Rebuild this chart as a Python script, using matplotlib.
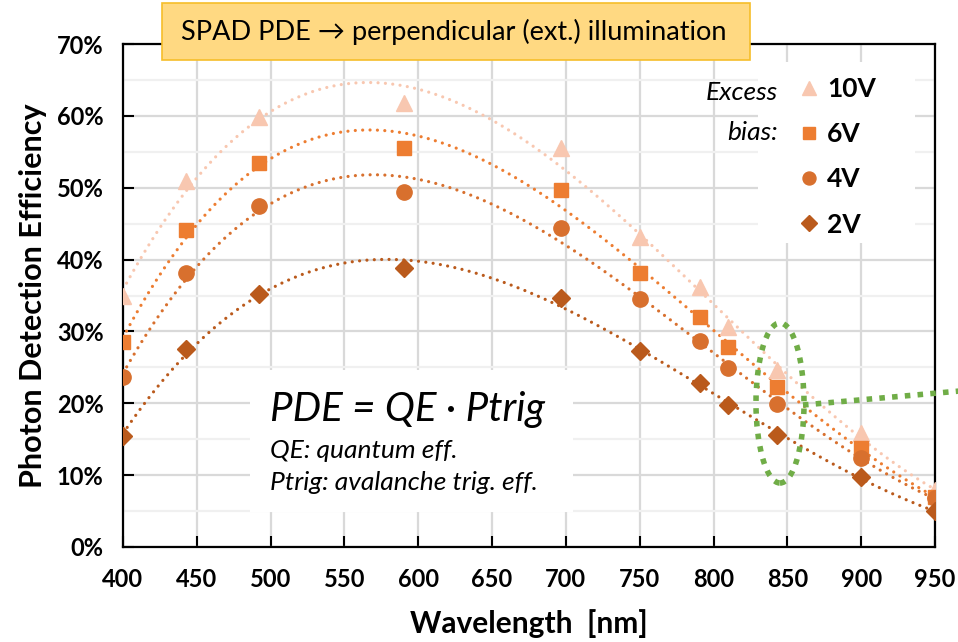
import matplotlib
matplotlib.use("Agg")
import matplotlib.pyplot as plt
import numpy as np
from matplotlib.patches import Rectangle, Ellipse
from matplotlib.ticker import MultipleLocator, FuncFormatter

plt.rcParams["font.family"] = ["Lato", "DejaVu Sans"]

# wavelengths [nm] and PDE [%] per excess bias
wavelength = [400, 443, 492, 590, 697, 750, 791, 810, 843, 900, 950]
pde_10v = [35.0, 51.0, 59.8, 61.8, 55.5, 43.1, 36.2, 30.6, 24.6, 15.9, 7.9]
pde_6v = [28.5, 44.1, 53.4, 55.5, 49.7, 38.1, 32.0, 27.8, 22.3, 13.8, 7.0]
pde_4v = [23.6, 38.1, 47.4, 49.4, 44.4, 34.5, 28.7, 24.9, 19.9, 12.4, 6.8]
pde_2v = [15.4, 27.5, 35.2, 38.8, 34.6, 27.3, 22.8, 19.7, 15.6, 9.7, 5.0]

labels = ["10V", "6V", "4V", "2V"]
colors = ["#F8C7B0", "#ED7D31", "#D8702E", "#BA5A1C"]
markers = ["^", "s", "o", "D"]
msizes = [12, 10, 11, 9]

W, H = 958, 642


def fx(x):
    return x / W


def fy(y):
    return 1 - y / H


fig = plt.figure(figsize=(W / 100, H / 100), dpi=100)
ax = fig.add_axes([fx(123), fy(547), fx(935) - fx(123), fy(44) - fy(547)])
ax.set_xlim(400, 950)
ax.set_ylim(0, 70)

ax.xaxis.set_major_locator(MultipleLocator(50))
ax.yaxis.set_major_locator(MultipleLocator(10))
ax.yaxis.set_minor_locator(MultipleLocator(5))
ax.yaxis.set_major_formatter(FuncFormatter(lambda v, _: f"{v:.0f}%"))
ax.grid(True, which="major", color="#D9D9D9", lw=1.6, zorder=0)
ax.grid(True, which="minor", axis="y", color="#F0F0F0", lw=1.6, zorder=0)
ax.set_axisbelow(True)
ax.tick_params(which="major", direction="in", length=8, width=1.5, labelsize=17)
ax.tick_params(which="minor", length=0)
ax.tick_params(axis="y", pad=14)
ax.tick_params(axis="x", pad=15)
for lab in ax.get_xticklabels() + ax.get_yticklabels():
    lab.set_fontweight("bold")
for s in ax.spines.values():
    s.set_linewidth(1.6)

ax.set_xlabel("Wavelength  [nm]", fontsize=21.5, fontweight="bold", labelpad=13)
ax.set_ylabel("Photon Detection Efficiency", fontsize=22, fontweight="bold", labelpad=7)

# white boxes behind legend and formula
ax.add_patch(Rectangle((fx(758), fy(243)), fx(915) - fx(758), fy(62) - fy(243),
                       transform=fig.transFigure, facecolor="white", edgecolor="none", zorder=1))
ax.add_patch(Rectangle((fx(250), fy(512)), fx(573) - fx(250), fy(370) - fy(512),
                       transform=fig.transFigure, facecolor="white", edgecolor="none", zorder=1))

xs = np.linspace(400, 950, 300)
series = [pde_10v, pde_6v, pde_4v, pde_2v]
handles = []
for vals, lab, c, m, ms in zip(series, labels, colors, markers, msizes):
    coef = np.polyfit(wavelength, vals, 4)
    ax.plot(xs, np.polyval(coef, xs), color=c, lw=2.3, ls=(0, (0.01, 2.3)),
            dash_capstyle="round", zorder=2)
    h, = ax.plot(wavelength, vals, ls="none", marker=m, ms=ms, color=c, mec=c, zorder=3, label=lab)
    handles.append(h)

leg = ax.legend(handles=handles, loc="upper left", bbox_to_anchor=(fx(789), fy(64)),
                bbox_transform=fig.transFigure, frameon=False, handlelength=0.5,
                handletextpad=0.45, labelspacing=0.8, markerscale=0.85, borderpad=0,
                prop={"size": 19, "weight": "bold"})
leg.set_zorder(4)

fig.text(fx(778), fy(93), "Excess", ha="right", va="center", fontsize=19, style="italic")
fig.text(fx(778), fy(132), "bias:", ha="right", va="center", fontsize=19, style="italic")

# formula
fig.text(fx(270), fy(409), "PDE = QE · Ptrig", ha="left", va="center", fontsize=29, style="italic")
fig.text(fx(270), fy(451), "QE: quantum eff.", ha="left", va="center", fontsize=19, style="italic")
fig.text(fx(270), fy(482), "Ptrig: avalanche trig. eff.", ha="left", va="center", fontsize=19,
         style="italic")

# green highlight around 843 nm
ax.add_patch(Ellipse((fx(780), fy(403)), fx(48), fx(160) * W / H, transform=fig.transFigure,
                     fill=False, edgecolor="#70AD47", lw=4, ls=(0, (1, 1.3)), zorder=5,
                     clip_on=False))
fig.add_artist(plt.Line2D([fx(803), fx(960)], [fy(405), fy(391)], color="#70AD47", lw=4,
                          ls=(0, (1, 1.3))))

# title box
fig.add_artist(Rectangle((fx(162), fy(60)), fx(750) - fx(162), fy(3) - fy(60),
                         transform=fig.transFigure, facecolor="#FFD982", edgecolor="#F6BE2A",
                         lw=1.2, zorder=6))
fig.text(fx(454), fy(32), "SPAD PDE \u2192 perpendicular (ext.) illumination", ha="center",
         va="center", fontsize=19.5, zorder=7)

fig.savefig("out.png", dpi=100)
